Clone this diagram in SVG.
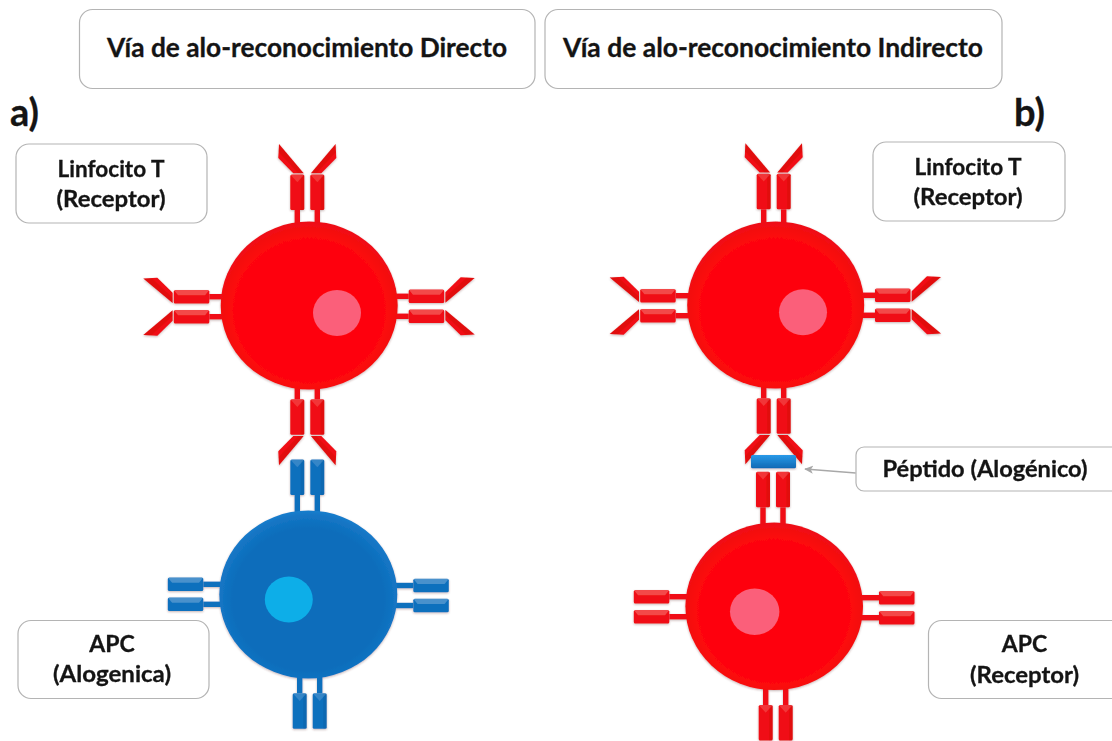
<svg xmlns="http://www.w3.org/2000/svg" width="1112" height="741" viewBox="0 0 1112 741">
  <style>
    text { font-family: "Lato", "Liberation Sans", sans-serif; font-weight: 700; fill: #141414; stroke: #141414; stroke-width: .3; text-anchor: middle; }
    .title { font-size: 26px; }
    .label { font-size: 23px; }
    .tag { font-size: 38px; text-anchor: start; }
    .box { fill: #fff; stroke: #b4b4b4; stroke-width: 1.2; }
    .red { color: #f00f12; }
    .blue { color: #0f6fbd; }
    .main { fill: currentColor; }
    .lit { fill: #fff; opacity: .16; }
    .lit-h { fill: #fff; opacity: .24; }
    .dim { fill: #000; opacity: .06; }
    .soft { filter: url(#soft); }
  </style>
  <defs>
    <filter id="soft" x="-20%" y="-20%" width="140%" height="140%">
      <feDropShadow dx="0" dy="1" stdDeviation="1.1" flood-color="#5a2a2a" flood-opacity=".35"/>
    </filter>
    <radialGradient id="redCell" cx="50%" cy="53%" r="53%">
      <stop offset="0" stop-color="#fe0609"/>
      <stop offset=".8" stop-color="#fe0609"/>
      <stop offset=".95" stop-color="#f20c12"/>
      <stop offset="1" stop-color="#ec1018"/>
    </radialGradient>
    <radialGradient id="blueCell" cx="50%" cy="53%" r="53%">
      <stop offset="0" stop-color="#0c6dbb"/>
      <stop offset=".8" stop-color="#0c6dbb"/>
      <stop offset=".95" stop-color="#1476c5"/>
      <stop offset="1" stop-color="#1a7ecd"/>
    </radialGradient>
    <linearGradient id="peptideFill" x1="0" y1="0" x2="0" y2="1">
      <stop offset="0" stop-color="#2a9ae8"/>
      <stop offset="1" stop-color="#0e68b4"/>
    </linearGradient>
    <marker id="arrow" viewBox="0 0 10 10" refX="9" refY="5" markerWidth="9" markerHeight="9" markerUnits="userSpaceOnUse" orient="auto">
      <path d="M0 0.5 L10 5 L0 9.5 L2.5 5 Z" fill="#a8a8a8"/>
    </marker>

    <!-- receptor parts: a stalk pair, bevelled bodies and the forked tips -->
    <g id="stems" class="main">
      <rect x="-12.7" y="0" width="5.4" height="24"/>
      <rect x="7.3" y="0" width="5.4" height="24"/>
    </g>
    <g id="body-v">
      <rect class="main" x="-7" y="-17.75" width="14" height="35.5" rx="1.5"/>
      <rect class="dim" x="3.5" y="-17.75" width="3.5" height="35.5"/>
      <polygon class="lit" points="-7,-17.75 7,-17.75 0,-10"/>
    </g>
    <g id="body-h">
      <rect class="main" x="-17.75" y="-6.7" width="35.5" height="13.4" rx="1.5"/>
      <polygon class="lit-h" points="-17.75,-6.7 17.75,-6.7 13.5,-1.5 -13.5,-1.5"/>
    </g>
    <g id="arms">
      <polygon class="main" points="-28.3,-66 -29,-52 -14,-36.7 -3.6,-36.7"/>
      <polygon class="dim" points="-28.3,-66 -3.6,-36.7 -9,-36.7 -28.6,-58"/>
      <polygon class="main" points="28.3,-66 29,-52 14,-36.7 3.6,-36.7"/>
      <polygon class="dim" points="28.3,-66 3.6,-36.7 9,-36.7 28.6,-58"/>
    </g>
    <g id="rec-up">
      <use href="#stems"/>
      <use href="#body-v" x="-10" y="-17.75"/>
      <use href="#body-v" x="10" y="-17.75"/>
    </g>
    <g id="rec-down">
      <use href="#stems" transform="rotate(180)"/>
      <use href="#body-v" x="-10" y="17.75"/>
      <use href="#body-v" x="10" y="17.75"/>
    </g>
    <g id="rec-left">
      <use href="#stems" transform="rotate(-90)"/>
      <use href="#body-h" x="-17.75" y="-10"/>
      <use href="#body-h" x="-17.75" y="10"/>
    </g>
    <g id="rec-right">
      <use href="#stems" transform="rotate(90)"/>
      <use href="#body-h" x="17.75" y="-10"/>
      <use href="#body-h" x="17.75" y="10"/>
    </g>
  </defs>

  <rect width="1112" height="741" fill="#fff"/>

  <g id="title-direct">
    <rect class="box" x="79.5" y="9.5" width="455.5" height="79" rx="13"/>
    <text class="title" x="307" y="57" textLength="400" lengthAdjust="spacingAndGlyphs">Vía de alo-reconocimiento Directo</text>
  </g>
  <g id="title-indirect">
    <rect class="box" x="545" y="9.5" width="457" height="79" rx="13"/>
    <text class="title" x="773" y="57" textLength="420" lengthAdjust="spacingAndGlyphs">Vía de alo-reconocimiento Indirecto</text>
  </g>
  <text id="tag-a" class="tag" x="10" y="126">a)</text>
  <text id="tag-b" class="tag" x="1014" y="126">b)</text>

  <g id="cell-t-direct" class="red soft">
    <g transform="translate(307.3 210)"><use href="#rec-up"/><use href="#arms"/></g>
    <g transform="translate(307.3 399.3)"><use href="#rec-down"/><use href="#arms" transform="rotate(180)"/></g>
    <g transform="translate(209.3 306.7)"><use href="#rec-left"/><use href="#arms" transform="rotate(-90)"/></g>
    <g transform="translate(408.7 306.3)"><use href="#rec-right"/><use href="#arms" transform="rotate(90)"/></g>
    <ellipse cx="309.2" cy="305.5" rx="88.5" ry="84" fill="url(#redCell)"/>
    <ellipse cx="337" cy="313" rx="24" ry="23" fill="#fb5f7a"/>
  </g>

  <g id="cell-apc-allogeneic" class="blue soft">
    <g transform="translate(307.3 495)"><use href="#rec-up"/></g>
    <g transform="translate(309.7 693.3)"><use href="#rec-down"/></g>
    <g transform="translate(203.3 594.3)"><use href="#rec-left"/></g>
    <g transform="translate(413.3 595.5)"><use href="#rec-right"/></g>
    <ellipse cx="308.3" cy="594.5" rx="89" ry="84" fill="url(#blueCell)"/>
    <ellipse cx="288.8" cy="599.5" rx="24" ry="23" fill="#0eaee8"/>
  </g>

  <g id="cell-t-indirect" class="red soft">
    <g transform="translate(773.7 209.3)"><use href="#rec-up"/><use href="#arms"/></g>
    <g transform="translate(773.7 398.3)"><use href="#rec-down"/><use href="#arms" transform="rotate(180)"/></g>
    <g transform="translate(675.7 305.7)"><use href="#rec-left"/><use href="#arms" transform="rotate(-90)"/></g>
    <g transform="translate(875 305.3)"><use href="#rec-right"/><use href="#arms" transform="rotate(90)"/></g>
    <ellipse cx="775.7" cy="305" rx="88.5" ry="83.5" fill="url(#redCell)"/>
    <ellipse cx="803" cy="312.3" rx="24" ry="23" fill="#fb5f7a"/>
  </g>

  <g id="cell-apc-receptor" class="red soft">
    <g transform="translate(773 507.3)"><use href="#rec-up"/></g>
    <g transform="translate(775.7 705)"><use href="#rec-down"/></g>
    <g transform="translate(669.3 606.7)"><use href="#rec-left"/></g>
    <g transform="translate(879 607.7)"><use href="#rec-right"/></g>
    <ellipse cx="774.2" cy="606.3" rx="88.8" ry="83.7" fill="url(#redCell)"/>
    <ellipse cx="754.7" cy="611.7" rx="24.7" ry="23.3" fill="#fb5f7a"/>
  </g>

  <g id="peptide" class="soft">
    <rect x="751" y="455" width="45" height="13.3" rx="1.5" fill="url(#peptideFill)"/>
  </g>

  <g id="connectors">
    <line x1="855.7" y1="473" x2="805" y2="469" stroke="#a8a8a8" stroke-width="1.3" marker-end="url(#arrow)"/>
  </g>

  <g id="label-t-direct">
    <rect class="box" x="16" y="144" width="191" height="79" rx="13"/>
    <text class="label" x="111" y="177" textLength="107" lengthAdjust="spacingAndGlyphs">Linfocito T</text>
    <text class="label" x="111" y="207" textLength="109" lengthAdjust="spacingAndGlyphs">(Receptor)</text>
  </g>
  <g id="label-t-indirect">
    <rect class="box" x="873" y="142" width="192" height="79" rx="13"/>
    <text class="label" x="968" y="175" textLength="107" lengthAdjust="spacingAndGlyphs">Linfocito T</text>
    <text class="label" x="968" y="205" textLength="109" lengthAdjust="spacingAndGlyphs">(Receptor)</text>
  </g>
  <g id="label-apc-allogeneic">
    <rect class="box" x="18" y="620.5" width="191" height="78" rx="13"/>
    <text class="label" x="112" y="652">APC</text>
    <text class="label" x="112" y="682" textLength="118" lengthAdjust="spacingAndGlyphs">(Alogenica)</text>
  </g>
  <g id="label-apc-receptor">
    <rect class="box" x="928.5" y="620.5" width="200" height="78" rx="13"/>
    <text class="label" x="1024.5" y="652">APC</text>
    <text class="label" x="1024.5" y="682.5" textLength="109" lengthAdjust="spacingAndGlyphs">(Receptor)</text>
  </g>
  <g id="label-peptide">
    <rect class="box" x="856" y="447" width="270" height="44" rx="8"/>
    <text class="label" x="985" y="477" textLength="205" lengthAdjust="spacingAndGlyphs">Péptido (Alogénico)</text>
  </g>
</svg>
